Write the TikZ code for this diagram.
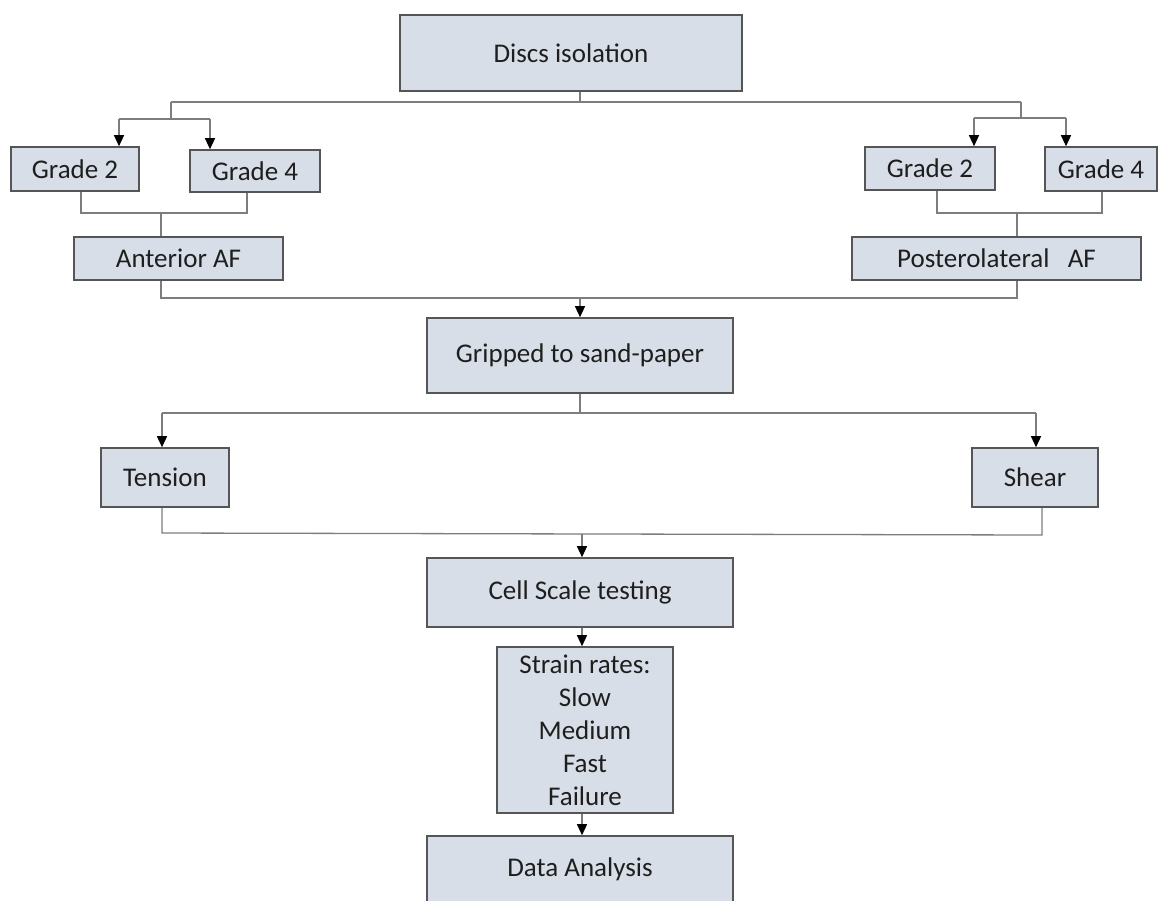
\documentclass[tikz,border=0pt]{standalone}
\usepackage{fontspec}
\setmainfont{Carlito}
\usetikzlibrary{arrows.meta,calc}
\definecolor{boxfill}{RGB}{216,222,232}
\definecolor{boxline}{RGB}{85,85,85}
\definecolor{conn}{RGB}{125,125,125}
\definecolor{txt}{RGB}{30,30,30}
\tikzset{
  box/.style={draw=boxline, line width=1.6pt, fill=boxfill, inner sep=0pt,
    text=txt, font=\fontsize{27}{33}\selectfont, align=center},
  wire/.style={draw=conn, line width=1.3pt},
  arr/.style={wire, -{Triangle[length=11pt,width=10pt,color=black]}}
}
\begin{document}
\begin{tikzpicture}[x=1pt,y=-1pt]
\clip (0,0) rectangle (1169,900);
\useasboundingbox (0,0) rectangle (1169,900);
\fill[white] (0,0) rectangle (1169,900);

\node[box, minimum width=342, minimum height=76] (disc) at (571,53) {Discs isolation};
\node[box, minimum width=128, minimum height=44] (g2L) at (75,169) {Grade 2};
\node[box, minimum width=130, minimum height=42] (g4L) at (255,171) {Grade 4};
\node[box, minimum width=209, minimum height=43] (antL) at (178.5,258.5) {Anterior AF};
\node[box, minimum width=130, minimum height=43] (g2R) at (930,168.5) {Grade 2};
\node[box, minimum width=112, minimum height=44] (g4R) at (1101,169) {Grade 4};
\node[box, minimum width=289, minimum height=43] (postR) at (996.5,258.5) {Posterolateral\ \ \ AF};
\node[box, minimum width=306, minimum height=75] (grip) at (580,355.5) {Gripped to sand-paper};
\node[box, minimum width=128, minimum height=59] (tens) at (165,477.5) {Tension};
\node[box, minimum width=126, minimum height=59] (shear) at (1035,477.5) {Shear};
\node[box, minimum width=306, minimum height=69] (cell) at (580,592.5) {Cell Scale testing};
\node[box, minimum width=176, minimum height=166] (strain) at (585,730) {Strain rates:\\Slow\\Medium\\Fast\\Failure};
\node[box, minimum width=306, minimum height=74] (data) at (580,873) {};
\node[text=txt, font=\fontsize{27}{33}\selectfont] (datat) at (580,869) {Data Analysis};

% top split
\coordinate (t0) at (580,102);
\draw[wire] (580,0 |- disc.south) -- (t0);
\draw[wire] (171,102) -- (1021,102);
\draw[wire] (171,102) -- (171,119);
\draw[wire] (119,119) -- (210,119);
\draw[arr] (119,119) -- (119,0 |- g2L.north);
\draw[arr] (210,119) -- (210,0 |- g4L.north);
\draw[wire] (1021,102) -- (1021,118);
\draw[wire] (974,118) -- (1066,118);
\draw[arr] (974,118) -- (974,0 |- g2R.north);
\draw[arr] (1066,118) -- (1066,0 |- g4R.north);

% merge grades
\draw[wire] (81,0 |- g2L.south) -- (81,213) -- (247,213) -- (247,0 |- g4L.south);
\draw[wire] (161,213) -- (161,0 |- antL.north);
\draw[wire] (937,0 |- g2R.south) -- (937,213) -- (1102,213) -- (1102,0 |- g4R.south);
\draw[wire] (1017,213) -- (1017,0 |- postR.north);

% merge AF
\draw[wire] (161,0 |- antL.south) -- (161,298) -- (1017,298) -- (1017,0 |- postR.south);
\draw[arr] (580,298) -- (grip.north);

% tension / shear
\draw[wire] (grip.south) -- (580,413);
\draw[wire] (162,413) -- (1036,413);
\draw[arr] (162,413) -- (162,0 |- tens.north);
\draw[arr] (1036,413) -- (1036,0 |- shear.north);
\draw[wire] (162,0 |- tens.south) -- (162,533) -- (1042,535) -- (1042,0 |- shear.south);
\draw[arr] (582,534) -- (582,0 |- cell.north);

\draw[arr] (582,0 |- cell.south) -- (582,0 |- strain.north);
\draw[arr] (582,0 |- strain.south) -- (582,0 |- data.north);
\end{tikzpicture}
\end{document}
